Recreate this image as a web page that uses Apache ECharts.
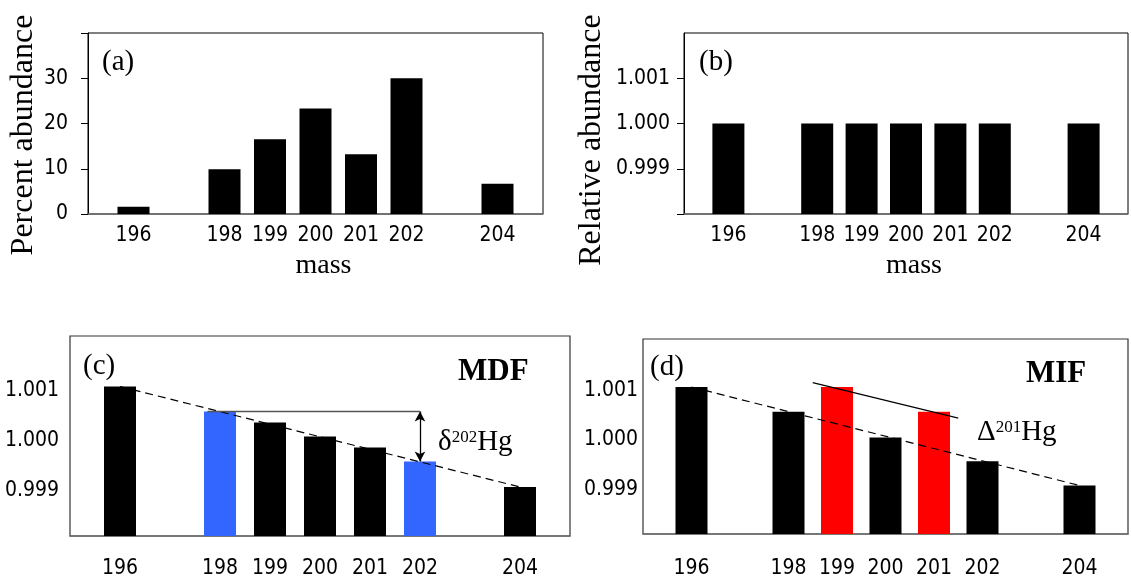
<!DOCTYPE html>
<html>
<head>
<meta charset="utf-8">
<script src="https://cdn.jsdelivr.net/npm/echarts@6/dist/echarts.min.js"></script>
<style>
  html, body { margin: 0; padding: 0; background: #fff; }
  #chart { width: 1131px; height: 579px; }
</style>
</head>
<body>
<div id="chart"></div>
<script>
// Hg isotopes
const masses = [196, 198, 199, 200, 201, 202, 204];
const percentAbundance = [1.6, 9.9, 16.5, 23.3, 13.2, 30.0, 6.7];
const relativeAbundance = [1.000, 1.000, 1.000, 1.000, 1.000, 1.000, 1.000];
const mdfAbundance = [1.00109, 1.00059, 1.00037, 1.00009, 0.99987, 0.99959, 0.99908];
const mifAbundance = [1.00107, 1.00057, 1.00107, 1.00005, 1.00057, 0.99957, 0.99908];
const mdfHighlight = [198, 202];
const mifHighlight = [199, 201];

// reference lines (mass, abundance)
const mdfTrend = [[196, 1.00109], [204, 0.99908]];
const mifTrend = [[196, 1.00107], [204, 0.99908]];
const deltaRef = [[197.75, 1.00059], [202, 1.00059]];
const deltaArrow = [[202, 1.00059], [202, 0.99959]];
const capRef = [[198.5, 1.00116], [201.5, 1.00044]];

// tick labels
const percentTicks = [0, 10, 20, 30];
const ratioTicks = [0.999, 1.000, 1.001];

const chart = echarts.init(document.getElementById('chart'));

const tickFont = { fontFamily: '"DejaVu Sans Condensed", "DejaVu Sans"', fontSize: 21, color: '#000' };
const serif = 'Liberation Serif';

const xAxisBase = (gridIndex, margin) => ({
  type: 'value', gridIndex, min: 195, max: 205, interval: 1,
  splitLine: { show: false },
  axisTick: { show: false },
  axisLine: { lineStyle: { color: '#6e6e6e', width: 1.5 } },
  axisLabel: Object.assign({}, tickFont, {
    margin,
    formatter: v => (masses.includes(v) ? String(v) : '')
  })
});

const ratioAxis = (gridIndex, max, margin) => ({
  type: 'value', gridIndex, min: 0.9981, max,
  splitLine: { show: false },
  axisLine: { show: false },
  axisTick: { show: false },
  axisLabel: Object.assign({}, tickFont, {
    margin, customValues: ratioTicks, formatter: v => v.toFixed(3)
  })
});

const barData = (vals, hi, col) => masses.map((m, i) => ({
  value: [m, vals[i]],
  itemStyle: { color: hi.includes(m) ? col : '#000' }
}));

const dashed = (data, idx) => ({
  type: 'line', xAxisIndex: idx, yAxisIndex: idx, data,
  symbol: 'none', silent: true, z: 5,
  lineStyle: { color: '#000', width: 1.2, type: [8, 5] }
});

const option = {
  animation: false,
  grid: [
    { left: 88, top: 33, width: 455, height: 181, show: true, borderColor: '#000', borderWidth: 1 },
    { left: 684, top: 33, width: 455, height: 181, show: true, borderColor: '#000', borderWidth: 1 },
    { left: 70, top: 336, width: 500, height: 201, show: true, borderColor: '#333', borderWidth: 1.2 },
    { left: 643, top: 339, width: 500, height: 198, show: true, borderColor: '#333', borderWidth: 1.2 }
  ],
  xAxis: [
    Object.assign(xAxisBase(0, 11), {
      name: 'mass', nameLocation: 'middle', nameGap: 38,
      nameTextStyle: { fontFamily: serif, fontSize: 28, color: '#000', padding: [0, 0, 0, 16] }
    }),
    Object.assign(xAxisBase(1, 11), {
      name: 'mass', nameLocation: 'middle', nameGap: 38,
      nameTextStyle: { fontFamily: serif, fontSize: 28, color: '#000', padding: [0, 0, 0, 16] }
    }),
    xAxisBase(2, 22),
    xAxisBase(3, 24)
  ],
  yAxis: [
    {
      type: 'value', gridIndex: 0, min: 0, max: 40, interval: 10,
      name: 'Percent abundance', nameLocation: 'middle', nameGap: 48,
      nameTextStyle: { fontFamily: serif, fontSize: 32, color: '#000', padding: [0, 23, 0, 0] },
      splitLine: { show: false },
      axisLine: { show: true, lineStyle: { color: '#000', width: 1 } },
      axisTick: { show: true, length: 7, lineStyle: { color: '#000' } },
      axisLabel: Object.assign({}, tickFont, { margin: 20, customValues: percentTicks })
    },
    {
      type: 'value', gridIndex: 1, min: 0.998, max: 1.002,
      name: 'Relative abundance', nameLocation: 'middle', nameGap: 76,
      nameTextStyle: { fontFamily: serif, fontSize: 32, color: '#000', padding: [0, 33, 0, 0] },
      splitLine: { show: false },
      axisLine: { show: true, lineStyle: { color: '#000', width: 1 } },
      axisTick: { show: true, length: 7, customValues: [0.998, 0.999, 1.000, 1.001], lineStyle: { color: '#000' } },
      axisLabel: Object.assign({}, tickFont, {
        margin: 14, customValues: ratioTicks, formatter: v => v.toFixed(3)
      })
    },
    ratioAxis(2, 1.0021, 11),
    ratioAxis(3, 1.00204, 5)
  ],
  series: [
    {
      type: 'bar', xAxisIndex: 0, yAxisIndex: 0, barWidth: 32,
      data: masses.map((m, i) => [m, percentAbundance[i]]),
      itemStyle: { color: '#000' }
    },
    {
      type: 'bar', xAxisIndex: 1, yAxisIndex: 1, barWidth: 32,
      data: masses.map((m, i) => [m, relativeAbundance[i]]),
      itemStyle: { color: '#000' }
    },
    {
      type: 'bar', xAxisIndex: 2, yAxisIndex: 2, barWidth: 32,
      data: barData(mdfAbundance, mdfHighlight, '#3366ff')
    },
    {
      type: 'bar', xAxisIndex: 3, yAxisIndex: 3, barWidth: 32,
      data: barData(mifAbundance, mifHighlight, '#ff0000')
    },
    dashed(mdfTrend, 2),
    dashed(mifTrend, 3),
    {
      type: 'line', xAxisIndex: 2, yAxisIndex: 2, data: deltaRef,
      symbol: 'none', silent: true, z: 5,
      lineStyle: { color: '#555', width: 1.5 },
      markLine: {
        silent: true, symbol: ['arrow', 'arrow'], symbolSize: [8, 10],
        label: { show: false },
        lineStyle: { color: '#000', width: 1.3, type: 'solid' },
        data: [[{ coord: deltaArrow[0] }, { coord: deltaArrow[1] }]]
      }
    },
    {
      type: 'line', xAxisIndex: 3, yAxisIndex: 3, data: capRef,
      symbol: 'none', silent: true, z: 5,
      lineStyle: { color: '#000', width: 1.2 }
    }
  ],
  graphic: [
    { type: 'text', left: 102, top: 48, style: { text: '(a)', font: '29px "Liberation Serif"', fill: '#000' } },
    { type: 'text', left: 699, top: 48, style: { text: '(b)', font: '29px "Liberation Serif"', fill: '#000' } },
    { type: 'text', left: 83, top: 352, style: { text: '(c)', font: '29px "Liberation Serif"', fill: '#000' } },
    { type: 'text', left: 650, top: 353, style: { text: '(d)', font: '29px "Liberation Serif"', fill: '#000' } },
    { type: 'text', left: 458, top: 356, style: { text: 'MDF', font: 'bold 31px "Liberation Serif"', fill: '#000' } },
    { type: 'text', left: 1026, top: 358, style: { text: 'MIF', font: 'bold 31px "Liberation Serif"', fill: '#000' } },
    {
      type: 'text', left: 438, top: 428,
      style: {
        text: '{a|δ}{s|202}{a|Hg}', fill: '#000',
        rich: {
          a: { fontFamily: serif, fontSize: 29, lineHeight: 30, verticalAlign: 'bottom' },
          s: { fontFamily: serif, fontSize: 17, lineHeight: 30, verticalAlign: 'bottom', padding: [0, 0, 11, 0] }
        }
      }
    },
    {
      type: 'text', left: 977, top: 418,
      style: {
        text: '{a|Δ}{s|201}{a|Hg}', fill: '#000',
        rich: {
          a: { fontFamily: serif, fontSize: 29, lineHeight: 30, verticalAlign: 'bottom' },
          s: { fontFamily: serif, fontSize: 17, lineHeight: 30, verticalAlign: 'bottom', padding: [0, 0, 11, 0] }
        }
      }
    }
  ]
};

chart.setOption(option);
window.addEventListener('resize', () => chart.resize());
</script>
</body>
</html>
